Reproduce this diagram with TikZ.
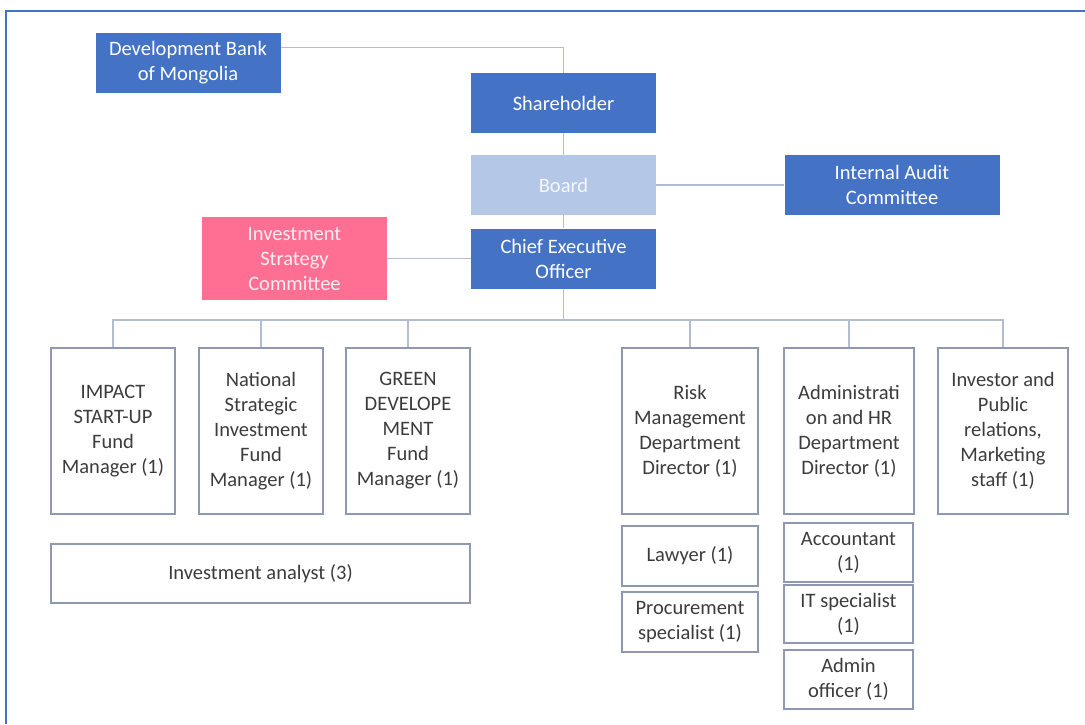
\documentclass[tikz,border=0pt]{standalone}
\usepackage{fontspec}
\setmainfont{Carlito}
\usepackage{xcolor}
\usetikzlibrary{calc, positioning}

\definecolor{orgblue}{HTML}{4472C4}
\definecolor{orglight}{HTML}{B4C7E7}
\definecolor{orgpink}{HTML}{FF6F93}
\definecolor{orgline}{HTML}{B3BDD1}
\definecolor{orgbox}{HTML}{8E98AE}
\definecolor{orgtext}{HTML}{3C3C3C}

\begin{document}
\begin{tikzpicture}[x=1pt, y=-1pt, font=\fontsize{20.5}{25}\selectfont]
		\tikzstyle{head} = [fill=orgblue, text=white, minimum width=185pt, minimum height=60pt, align=center, inner sep=1pt]
		\tikzstyle{headl} = [head, fill=orglight, text=white!94!orgblue]
		\tikzstyle{headp} = [head, fill=orgpink, text=white!88!orgpink, minimum height=83pt]
		\tikzstyle{unit} = [draw=orgbox, line width=1.3pt, fill=white, text=orgtext, align=center, minimum width=124pt, minimum height=166pt, inner sep=1pt]
		\tikzstyle{sub} = [unit, minimum width=136pt, minimum height=60pt]
		\tikzstyle{link} = [draw=orgline, line width=1.5pt]
		
		\useasboundingbox (0, 0) rectangle (1085, 724);
		\draw [orgblue, line width=2pt] (6, 724) |- (1085, 11);
		
		\node[head]		at (188, 62.5)		(q0)	{Development Bank\\of Mongolia};
		\node[head]		at (563.5, 103)		(q1)	{Shareholder};
		\node[headl]	at (563.5, 185)		(q2)	{Board};
		\node[head]		at (563.5, 258.5)	(q3)	{Chief Executive\\Officer};
		\node[headp]	at (294.5, 258.5)	(q4)	{Investment\\Strategy\\Committee};
		\node[head, minimum width=215pt]	at (892, 185)	(q5)	{Internal Audit\\Committee};
		
		\coordinate (bus) at (563.5, 320);
		
		\node[unit]		at (113, 431)		(q6)	{IMPACT\\START-UP\\Fund\\Manager (1)};
		\node[unit]		at (261, 431)		(q7)	{National\\Strategic\\Investment\\Fund\\Manager (1)};
		\node[unit]		at (408, 431)		(q8)	{GREEN\\DEVELOPE\\MENT\\Fund\\Manager (1)};
		\node[unit, minimum width=136pt]	at (690, 431)	(q9)	{Risk\\Management\\Department\\Director (1)};
		\node[unit, minimum width=130pt]	at (849, 431)	(q10)	{Administrati\\on and HR\\Department\\Director (1)};
		\node[unit, minimum width=130pt]	at (1003, 431)	(q11)	{Investor and\\Public\\relations,\\Marketing\\staff (1)};
		
		\node[sub, minimum width=419pt, minimum height=59pt]	at (260.5, 573.5)	(q12)	{Investment analyst (3)};
		\node[sub]		at (690, 556)		(q13)	{Lawyer (1)};
		\node[sub]		at (690, 622)		(q14)	{Procurement\\specialist (1)};
		\node[sub, minimum width=129pt, minimum height=59pt]	at (848.5, 552.5)	(q15)	{Accountant\\(1)};
		\node[sub, minimum width=129pt, minimum height=58pt]	at (848.5, 614)		(q16)	{IT specialist\\(1)};
		\node[sub, minimum width=129pt, minimum height=59pt]	at (848.5, 679.5)	(q17)	{Admin\\officer (1)};
		
		\draw [link] ($(q0.north east)!0.25!(q0.south east)$) -| (q1);
		\draw [link] (q1) -- (q2);
		\draw [link] (q2) -- (q3);
		\draw [link] (q2) -- (q5);
		\draw [link] (q4) -- (q3);
		\draw [link] (q3) -- (bus);
		
		\foreach \n in {q6, q7, q8, q9, q10, q11}
			\draw [link] (bus) -| (\n);
		
\end{tikzpicture}
\end{document}
